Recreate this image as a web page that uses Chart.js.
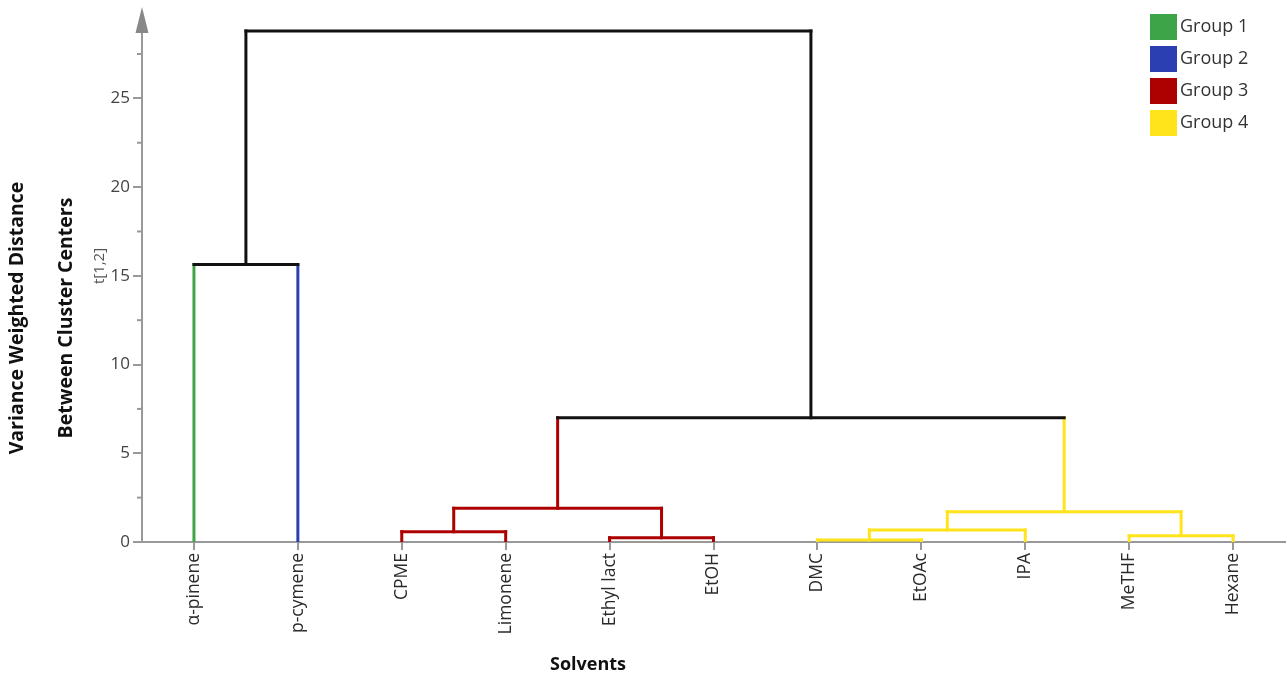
<!DOCTYPE html>
<html>
<head>
<meta charset="utf-8">
<script src="https://cdn.jsdelivr.net/npm/chart.js@4/dist/chart.umd.min.js"></script>
<style>
  html, body { margin: 0; padding: 0; background: #fff; }
  #wrap { width: 1287px; height: 678px; }
</style>
</head>
<body>
<div id="wrap"><canvas id="chart" width="1287" height="678"></canvas></div>
<script>
// leaves of the dendrogram, left to right
const leaves = ['α-pinene', 'p-cymene', 'CPME', 'Limonene', 'Ethyl lact', 'EtOH',
                'DMC', 'EtOAc', 'IPA', 'MeTHF', 'Hexane'];
const leafGroup = [1, 2, 3, 3, 3, 3, 4, 4, 4, 4, 4];

// merges: node ids 0..10 are leaves, merge k becomes node 11 + k
const mergeLeft   = [2, 4, 11, 6, 14, 9, 15, 13, 0, 19];
const mergeRight  = [3, 5, 12, 7, 8, 10, 16, 17, 1, 18];
const mergeHeight = [0.58, 0.24, 1.9, 0.11, 0.67, 0.35, 1.7, 7.0, 15.64, 28.8];
const mergeGroup  = [3, 3, 3, 4, 4, 4, 4, 0, 0, 0];

const groupNames = ['Group 1', 'Group 2', 'Group 3', 'Group 4'];
const groupColors = ['#111111', '#3da548', '#2b3fb3', '#ad0000', '#ffe41c'];

const yTicks = [0, 5, 10, 15, 20, 25];
const yMinorTicks = [2.5, 7.5, 12.5, 17.5, 22.5, 27.5];

// work out node positions and parents
const nodeX = leaves.map((_, i) => i);
const nodeH = leaves.map(() => 0);
const nodeGroup = leafGroup.slice();
const parent = {};
mergeLeft.forEach((l, k) => {
  const r = mergeRight[k];
  const id = leaves.length + k;
  nodeX[id] = (nodeX[l] + nodeX[r]) / 2;
  nodeH[id] = mergeHeight[k];
  nodeGroup[id] = mergeGroup[k];
  parent[l] = id;
  parent[r] = id;
});

const seg = (x1, y1, x2, y2, color) => ({
  data: [{ x: x1, y: y1 }, { x: x2, y: y2 }],
  showLine: true,
  borderColor: color,
  borderWidth: 3,
  borderCapStyle: 'square',
  pointRadius: 0,
  pointHoverRadius: 0,
  fill: false
});

const datasets = [];
// horizontal bars
mergeLeft.forEach((l, k) => {
  const r = mergeRight[k];
  datasets.push(seg(nodeX[l], mergeHeight[k], nodeX[r], mergeHeight[k], groupColors[mergeGroup[k]]));
});
// vertical stems
Object.keys(parent).forEach(id => {
  const p = parent[id];
  datasets.push(seg(nodeX[id], nodeH[id], nodeX[id], nodeH[p], groupColors[nodeGroup[id]]));
});

const decor = {
  id: 'decor',
  afterDraw(chart) {
    const { ctx, chartArea, scales } = chart;
    const ax = chartArea.left;
    ctx.save();
    // arrow on y axis
    ctx.fillStyle = '#888';
    ctx.beginPath();
    ctx.moveTo(ax, 7);
    ctx.lineTo(ax - 6.5, 33);
    ctx.lineTo(ax + 6.5, 33);
    ctx.closePath();
    ctx.fill();
    // minor ticks
    ctx.strokeStyle = '#999';
    ctx.lineWidth = 2;
    yMinorTicks.forEach(v => {
      const py = scales.y.getPixelForValue(v);
      ctx.beginPath();
      ctx.moveTo(ax - 5, py);
      ctx.lineTo(ax, py);
      ctx.stroke();
    });
    // y titles
    const rot = (text, x, y, font, color) => {
      ctx.save();
      ctx.translate(x, y);
      ctx.rotate(-Math.PI / 2);
      ctx.font = font;
      ctx.fillStyle = color;
      ctx.textAlign = 'center';
      ctx.textBaseline = 'middle';
      ctx.fillText(text, 0, 0);
      ctx.restore();
    };
    rot('Variance Weighted Distance', 17, 318, 'bold 19.5px "Open Sans"', '#111');
    rot('Between Cluster Centers', 66, 318, 'bold 19.5px "Open Sans"', '#111');
    rot('t[1,2]', 100, 266, '15px "Open Sans"', '#555');
    // x title
    ctx.font = 'bold 18px "Open Sans"';
    ctx.fillStyle = '#111';
    ctx.textAlign = 'center';
    ctx.textBaseline = 'middle';
    ctx.fillText('Solvents', 588, 665);
    // legend
    ctx.textAlign = 'left';
    ctx.font = '18px "Open Sans"';
    groupNames.forEach((name, i) => {
      const top = 14 + i * 32;
      ctx.fillStyle = groupColors[i + 1];
      ctx.fillRect(1150, top, 27, 26);
      ctx.fillStyle = '#333';
      ctx.fillText(name, 1180, top + 13);
    });
    ctx.restore();
  }
};

new Chart(document.getElementById('chart'), {
  type: 'scatter',
  data: { datasets },
  options: {
    responsive: false,
    animation: false,
    layout: { padding: { top: 10, right: 2, left: 0, bottom: 0 } },
    plugins: { legend: { display: false }, tooltip: { enabled: false } },
    scales: {
      x: {
        type: 'linear',
        min: -0.5,
        max: 10.5,
        afterBuildTicks: s => { s.ticks = leaves.map((_, i) => ({ value: i })); },
        afterFit: s => { s.height = 136; },
        ticks: {
          callback: v => leaves[v],
          autoSkip: false,
          minRotation: 90,
          maxRotation: 90,
          padding: 3,
          color: '#2a2a2a',
          font: { family: 'Open Sans', size: 17.5 }
        },
        grid: { drawOnChartArea: false, tickLength: 8, color: '#999', lineWidth: 2 },
        border: { color: '#999', width: 2 }
      },
      y: {
        min: 0,
        max: 29.8,
        afterBuildTicks: s => { s.ticks = yTicks.map(v => ({ value: v })); },
        afterFit: s => { s.width = 142; },
        ticks: {
          padding: 3,
          color: '#444',
          font: { family: 'Open Sans', size: 17 }
        },
        grid: { drawOnChartArea: false, tickLength: 9, color: '#999', lineWidth: 2 },
        border: { color: '#999', width: 2 }
      }
    }
  },
  plugins: [decor]
});
</script>
</body>
</html>
